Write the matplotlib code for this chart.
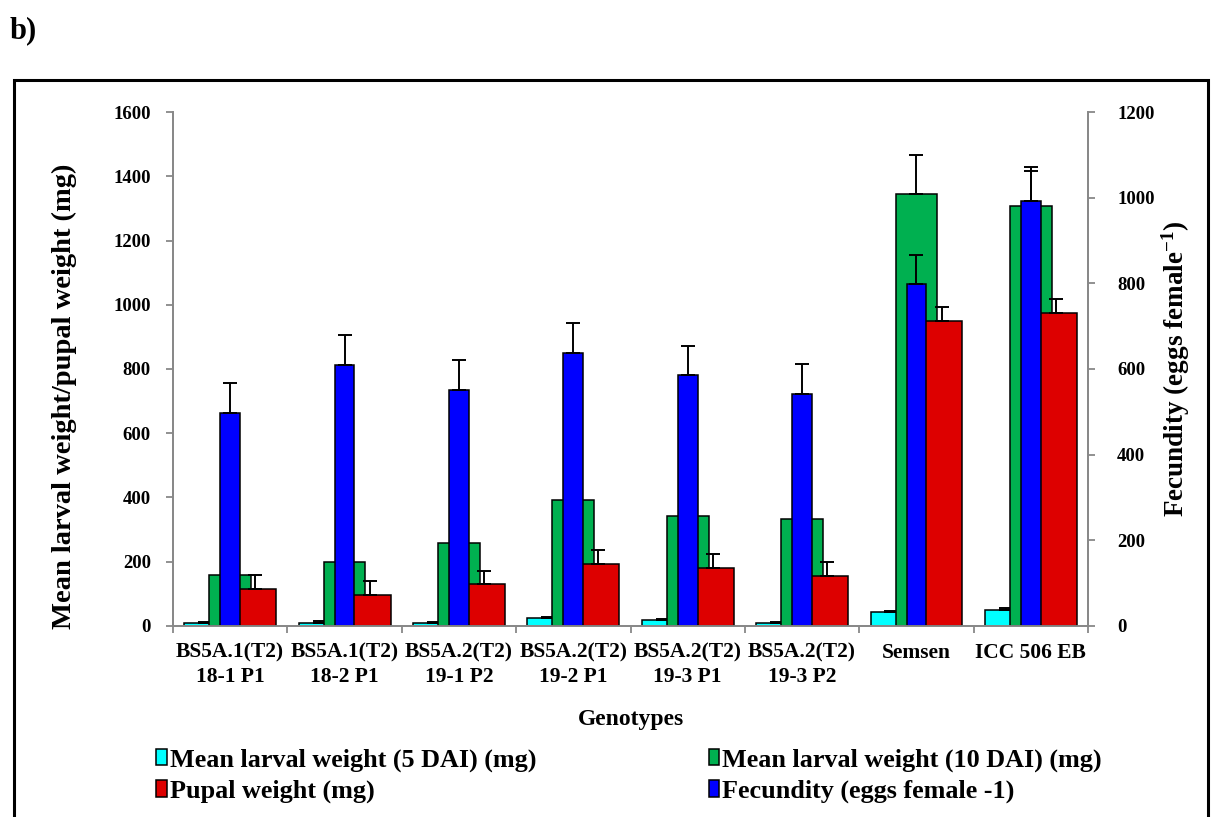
import matplotlib.pyplot as plt
import numpy as np
from matplotlib.patches import Rectangle

plt.rcParams['font.family'] = ['Liberation Serif', 'DejaVu Serif']
plt.rcParams['font.weight'] = 'bold'
plt.rcParams['mathtext.fontset'] = 'custom'
plt.rcParams['mathtext.rm'] = 'Liberation Serif:bold'
plt.rcParams['mathtext.bf'] = 'Liberation Serif:bold'
plt.rcParams['mathtext.it'] = 'Liberation Serif:bold:italic'

genotypes = ["BS5A.1(T2)\n18-1 P1", "BS5A.1(T2)\n18-2 P1", "BS5A.2(T2)\n19-1 P2",
             "BS5A.2(T2)\n19-2 P1", "BS5A.2(T2)\n19-3 P1", "BS5A.2(T2)\n19-3 P2",
             "Semsen", "ICC 506 EB"]

# poids larvaire moyen 5 DAI (mg)
larva5 = [8, 10, 8, 24, 19, 8, 43, 50]
larva5_se = [4, 5, 5, 5, 4, 5, 4, 6]
# poids larvaire moyen 10 DAI (mg)
larva10 = [158, 199, 257, 392, 343, 332, 1345, 1308]
larva10_se = [40, 40, 40, 40, 40, 40, 122, 121]
# poids pupal (mg)
pupal = [114, 96, 131, 193, 181, 155, 949, 973]
pupal_se = [45, 44, 41, 43, 43, 45, 44, 44]
# fecondite (oeufs / femelle), axe de droite
fecundity = [497, 610, 552, 637, 585, 542, 798, 993]
fecundity_se = [70, 69, 70, 70, 69, 70, 68, 69]

x = np.arange(len(genotypes))
w = 0.365
dx = 0.219
wb = 0.172

fig = plt.figure(figsize=(12.15, 8.17), dpi=100)
ax = fig.add_axes([0.1424, 0.2338, 0.7531, 0.6291])
ax2 = ax.twinx()

def barres(axe, xs, vals, err, couleur, largeur, z):
    axe.bar(xs, vals, largeur, color=couleur, edgecolor='black', linewidth=1.1, zorder=z)
    axe.errorbar(xs, vals, yerr=[np.zeros(len(vals)), err], fmt='none', ecolor='black',
                 elinewidth=1.4, capsize=5, capthick=1.4, zorder=z + 0.1)

barres(ax, x - dx, larva5, larva5_se, '#00FFFF', w, 2)
barres(ax, x, larva10, larva10_se, '#00B050', w, 3)
barres(ax, x + dx, pupal, pupal_se, '#DD0000', w, 4)
barres(ax2, x, fecundity, fecundity_se, '#0000FF', wb, 2)

ax.set_xlim(-0.5, len(genotypes) - 0.5)
ax.set_ylim(0, 1600)
ax2.set_ylim(0, 1200)
ax.set_yticks(np.arange(0, 1601, 200))
ax2.set_yticks(np.arange(0, 1201, 200))

ax.set_xticks(x)
ax.set_xticklabels(genotypes, fontsize=15.5, fontweight='bold', linespacing=1.3)
ax.set_xticks(np.arange(-0.5, len(genotypes)), minor=True)
ax.tick_params(axis='x', which='major', length=0, pad=12)
ax.tick_params(axis='x', which='minor', length=5, width=1.3, color='#888888')
ax.tick_params(axis='y', length=5, width=1.3, color='#888888', labelsize=13.5, pad=11)
ax2.tick_params(axis='y', length=5, width=1.3, color='#888888', labelsize=13.5, pad=16)
for lab in ax.get_yticklabels() + ax2.get_yticklabels():
    lab.set_fontweight('bold')

for a in (ax, ax2):
    a.spines['top'].set_visible(False)
    for s in ('left', 'right', 'bottom'):
        a.spines[s].set_color('#888888')
        a.spines[s].set_linewidth(1.3)

ax.set_ylabel("Mean larval weight/pupal weight (mg)", fontsize=20.5, fontweight='bold')
ax.yaxis.set_label_coords(-0.105, 0.447)
ax2.set_ylabel("Fecundity (eggs female$^{\\mathrm{-1}}$)", fontsize=19.5, fontweight='bold')
ax2.yaxis.set_label_coords(1.0776, 0.5)
ax.set_xlabel("Genotypes", fontsize=17, fontweight='bold', labelpad=16)

# legende sur deux colonnes
poignees = [Rectangle((0, 0), 1, 1, facecolor=c, edgecolor='black', linewidth=1.1)
            for c in ('#00FFFF', '#DD0000', '#00B050', '#0000FF')]
noms = ["Mean larval weight (5 DAI) (mg)", "Pupal weight (mg)",
        "Mean larval weight (10 DAI) (mg)", "Fecundity (eggs female -1)"]
fig.legend(poignees, noms, loc='upper left', bbox_to_anchor=(0.12, 0.097),
           ncol=2, frameon=False, prop={'size': 18.8, 'weight': 'bold'},
           handlelength=0.4, handleheight=0.6, handletextpad=0.12,
           columnspacing=6.6, labelspacing=0.3, borderaxespad=0)

fig.text(0.008, 0.963, "b)", fontsize=22, fontweight='bold', va='center')
fig.patches.append(Rectangle((0.0115, -0.05), 0.9827, 0.952, transform=fig.transFigure,
                             fill=False, edgecolor='black', linewidth=2.2))

plt.savefig("out.png", dpi=100)
